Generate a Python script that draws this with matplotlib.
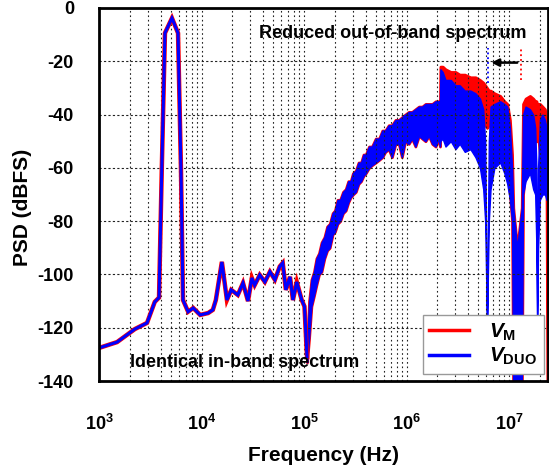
import numpy as np
import matplotlib
matplotlib.use("Agg")
import matplotlib.pyplot as plt
from matplotlib.ticker import FixedLocator, FuncFormatter, LogLocator, NullFormatter

plt.rcParams['font.family'] = ['Liberation Sans', 'DejaVu Sans']
plt.rcParams['font.weight'] = 'bold'
plt.rcParams['axes.unicode_minus'] = False
plt.rcParams['mathtext.fontset'] = 'custom'
plt.rcParams['mathtext.rm'] = 'Liberation Sans'
plt.rcParams['mathtext.it'] = 'Liberation Sans:italic'
plt.rcParams['mathtext.bf'] = 'Liberation Sans:bold'

# in-band part, identical for both signals
freq_lo = [1000, 1500, 2240, 2940, 3500, 3850, 4100, 4400, 5150, 5900, 6300, 6600,
           7400, 8300, 9700, 11600, 12900, 13800, 15800, 17700, 19500, 22600, 25400,
           28400, 31000, 33000, 37000, 41500, 46500, 52000, 58000, 62000, 66500,
           73000, 78000, 85000, 95000, 101000, 107000]
psd_lo = [-127.6, -125.4, -120.5, -118.2, -110.3, -108.7, -60, -9.4, -3.8, -9.4, -60, -109.6,
          -114, -112.6, -115.2, -114.5, -113.3, -109.6, -95.3, -109.6, -105.8, -107.7, -103.2,
          -110, -101.3, -104, -100.2, -102.8, -99, -102, -97, -95.7, -105.8,
          -100.9, -109.6, -102.8, -109.6, -112, -131]

# noisy band above 100 kHz (same envelope for both)
band_f = [1.07e5, 1.12e5, 1.18e5, 1.25e5, 1.32e5, 1.40e5, 1.48e5, 1.58e5, 1.68e5, 1.78e5,
          1.90e5, 2.00e5, 2.12e5, 2.25e5, 2.40e5, 2.55e5, 2.70e5, 2.85e5, 3.00e5, 3.20e5,
          3.40e5, 3.60e5, 3.80e5, 4.00e5, 4.30e5, 4.60e5, 5.00e5, 5.40e5, 5.80e5, 6.20e5,
          6.70e5, 7.20e5, 7.80e5, 8.40e5, 9.00e5, 9.70e5, 1.05e6, 1.13e6, 1.22e6, 1.32e6,
          1.42e6, 1.53e6, 1.65e6, 1.78e6, 1.92e6, 2.05e6, 2.12e6]
band_top = [-128, -110, -102, -99, -94, -92, -88, -86, -82, -81,
            -77, -76, -72, -72, -69, -68, -65, -65, -62, -61,
            -58, -58, -55, -55, -52, -52, -49, -49, -46, -46,
            -44, -44, -42, -42, -41, -40, -39, -39, -38, -37,
            -37, -36, -36, -36, -35, -35, -35]
band_bot = [-133, -124, -112, -108, -104, -100, -99, -94, -91, -90,
            -85, -84, -81, -80, -77, -76, -73, -71, -70, -69,
            -66, -65, -63, -62, -60, -59, -58, -57, -56, -54,
            -53, -56, -51, -51, -56, -50, -51, -49, -52, -48,
            -49, -50, -48, -51, -52, -49, -52]

# out-of-band part, where the two differ
oob_f = [2.14e6, 2.25e6, 2.4e6, 2.7e6, 3.0e6, 3.3e6, 3.7e6, 4.2e6, 4.7e6, 5.2e6,
         5.6e6, 5.85e6, 6.1e6, 6.35e6, 6.6e6, 7.2e6, 8.2e6, 9.0e6, 9.6e6, 1.02e7,
         1.07e7, 1.1e7, 1.2e7, 1.33e7, 1.37e7, 1.45e7, 1.6e7, 1.72e7, 1.8e7, 1.85e7,
         1.88e7, 1.92e7, 2.0e7, 2.12e7, 2.24e7, 2.32e7, 2.37e7, 2.4e7]
duo_top = [-23, -24, -27, -27, -29, -29, -31, -31, -32, -34,
           -38, -50, -118, -50, -37, -36, -35, -36, -37, -45,
           -60, -75, -90, -75, -40, -37, -38, -40, -45, -60,
           -116, -60, -42, -40, -42, -45, -50, -55]
duo_bot = [-50, -49, -52, -50, -53, -51, -54, -53, -56, -60,
           -68, -80, -120, -80, -68, -60, -58, -62, -66, -72,
           -80, -150, -150, -150, -70, -65, -62, -68, -70, -90,
           -118, -90, -72, -70, -70, -72, -72, -72]
m_top = [-22, -22, -23, -24, -24, -25, -25, -26, -26, -27,
         -28, -29, -30, -31, -31, -32, -33, -35, -36, -42,
         -55, -75, -90, -75, -36, -34, -33, -34, -35, -35,
         -36, -36, -36, -37, -38, -42, -45, -150]
m_bot = [-46, -46, -46, -46, -46, -46, -46, -46, -46, -46,
         -42, -44, -45, -44, -42, -50, -55, -55, -60, -70,
         -80, -150, -150, -150, -70, -60, -55, -55, -48, -50,
         -50, -48, -55, -55, -60, -65, -150, -150]

fig = plt.figure(figsize=(5.49, 4.70), dpi=100)
ax = fig.add_axes([99 / 549, 1 - 381 / 470, 449 / 549, 373 / 470])

hf = band_f + oob_f
# V_M (red) underneath
ax.plot(freq_lo, psd_lo, color='#ff0000', lw=3.2, solid_joinstyle='miter')
ax.fill_between(hf, band_bot + m_bot, band_top + m_top, facecolor='#ff0000',
                edgecolor='#ff0000', lw=2.0)
# V_DUO (blue) on top
ax.plot(freq_lo, psd_lo, color='#0000ff', lw=2.2, solid_joinstyle='miter')
ax.fill_between(hf, band_bot + duo_bot, band_top + duo_top, facecolor='#0000ff',
                edgecolor='#0000ff', lw=1.0)

# legend proxies
ax.plot([], [], color='#ff0000', lw=2.5, label=r'$V_{\mathrm{M}}$')
ax.plot([], [], color='#0000ff', lw=2.5, label=r'$V_{\mathrm{DUO}}$')

# markers of the first notch and the arrow
ax.vlines(6.2e6, -28, -15, colors='#0000ff', linestyles=':', lw=1.3)
ax.vlines(1.3e7, -27, -15, colors='#ff0000', linestyles=':', lw=1.3)
ax.annotate('', xy=(6.3e6, -20.5), xytext=(1.28e7, -20.5),
            arrowprops=dict(arrowstyle='-|>', color='black', lw=1.8, mutation_scale=11))

ax.text(3.6e4, -9.4, 'Reduced out-of-band spectrum', fontsize=13, fontweight='bold',
        ha='left', va='center')
ax.text(2.0e3, -133.2, 'Identical in-band spectrum', fontsize=13, fontweight='bold',
        ha='left', va='center')

ax.set_xscale('log')
ax.set_xlim(1e3, 2.4e7)
ax.set_ylim(-140, 0)
ax.xaxis.set_major_locator(FixedLocator([1e3, 1e4, 1e5, 1e6, 1e7]))
ax.xaxis.set_major_formatter(FuncFormatter(
    lambda v, p: r'$\mathbf{10^{%d}}$' % round(np.log10(v))))
ax.xaxis.set_minor_locator(LogLocator(base=10, subs=np.arange(2, 10)))
ax.xaxis.set_minor_formatter(NullFormatter())
ax.set_yticks(np.arange(-140, 1, 20))

ax.grid(True, which='major', axis='y', color='#222222', ls=(0, (2, 2)), lw=0.8)
ax.grid(True, which='both', axis='x', color='#222222', ls=(0, (1.5, 2.5)), lw=0.8)
ax.tick_params(axis='both', which='both', length=0, labelsize=13)
ax.tick_params(axis='x', pad=24)
ax.tick_params(axis='y', pad=18)
for s in ax.spines.values():
    s.set_linewidth(2)
    s.set_color('black')

ax.set_xlabel('Frequency (Hz)', fontsize=15, fontweight='bold')
ax.xaxis.set_label_coords(0.5, -0.175)
ax.set_ylabel('PSD (dBFS)', fontsize=15, fontweight='bold')
ax.yaxis.set_label_coords(-0.15, 0.465)

leg = ax.legend(loc='lower right', bbox_to_anchor=(0.99, 0.02), borderaxespad=0,
                fontsize=15, handlelength=1.9, fancybox=False, framealpha=1,
                edgecolor='#999999', borderpad=0.3, labelspacing=0.15, handletextpad=1.0)
leg.get_frame().set_linewidth(1.0)

fig.savefig('out.png', dpi=100)
